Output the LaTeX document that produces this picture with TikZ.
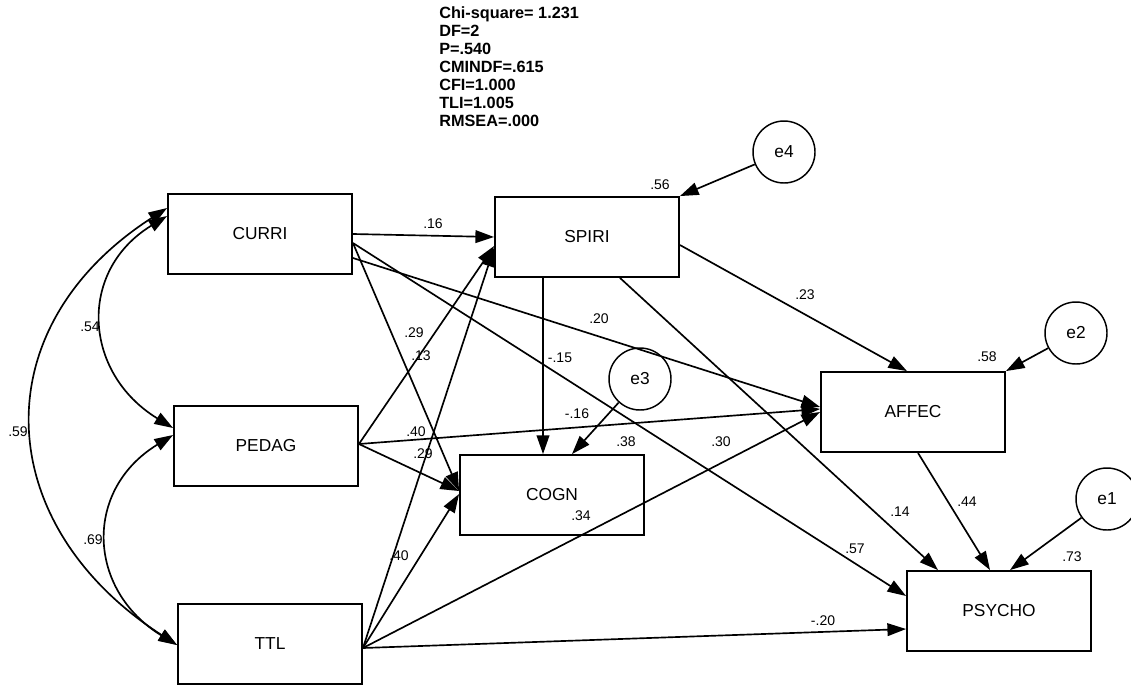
\documentclass[tikz,border=0pt]{standalone}
\usepackage{fontspec}
\setmainfont{Liberation Sans}
\usetikzlibrary{arrows.meta,calc}
\tikzset{
  >={Triangle[length=14pt,width=9.5pt]},
  var/.style={draw,line width=1.4pt,minimum width=138pt,minimum height=60pt,
    inner sep=0pt,font=\fontsize{13}{15}\selectfont},
  err/.style={circle,draw,line width=1.1pt,minimum size=46.5pt,inner sep=0pt,
    font=\fontsize{13}{15}\selectfont},
  effect/.style={->,line width=1.25pt},
  cov/.style={<->,line width=1.25pt},
  coef/.style={font=\fontsize{10.5}{12}\selectfont,inner sep=0pt},
  stats/.style={align=left,inner sep=0pt,font=\bfseries\fontsize{12.2}{13.6}\selectfont},
}
\begin{document}
\begin{tikzpicture}[x=0.75pt,y=-0.75pt]
  \useasboundingbox (0,0) rectangle (1131,686);
  \node[stats,anchor=north west] (fit) at (439,6) {Chi-square= 1.231\\DF=2\\P=.540\\CMINDF=.615\\CFI=1.000\\TLI=1.005\\RMSEA=.000};
  % observed variables
  \node[var] (curri) at (260,234) {CURRI};
  \node[var] (pedag) at (266,446) {PEDAG};
  \node[var] (ttl) at (270,644) {TTL};
  \node[var] (spiri) at (587,237) {SPIRI};
  \node[var] (cogn) at (552,495) {COGN};
  \node[var] (affec) at (913,412) {AFFEC};
  \node[var] (psycho) at (999,611) {PSYCHO};
  % residuals
  \node[err] (e4) at (784,152) {e4};
  \node[err] (e3) at (640,379) {e3};
  \node[err] (e2) at (1076,333) {e2};
  \node[err] (e1) at (1107,499) {e1};
  % paths
  \draw[effect] (curri.east) -- (spiri.west);
  \draw[effect] ($(curri.east)+(0,9)$) -- ($(cogn.west)+(0,-4)$);
  \draw[effect] ($(curri.east)+(0,9)$) -- ($(psycho.west)+(0,-15)$);
  \draw[effect] ($(curri.east)+(0,24)$) -- ($(affec.west)+(0,-5)$);
  \draw[effect] ($(pedag.east)+(0,-2)$) -- ($(spiri.west)+(0,9)$);
  \draw[effect] ($(pedag.east)+(0,-2)$) -- ($(cogn.west)+(0,-4)$);
  \draw[effect] ($(pedag.east)+(0,-2)$) -- ($(affec.west)+(0,-3)$);
  \draw[effect] ($(ttl.east)+(0,4)$) -- ($(spiri.west)+(0,11)$);
  \draw[effect] ($(ttl.east)+(0,4)$) -- ($(cogn.west)+(0,-1)$);
  \draw[effect] ($(ttl.east)+(0,4)$) -- (affec.west);
  \draw[effect] ($(ttl.east)+(0,4)$) -- ($(psycho.west)+(0,18)$);
  \draw[effect] ($(spiri.south)+(-44,0)$) -- ($(cogn.north)+(-9,0)$);
  \draw[effect] ($(spiri.east)+(0,8)$) -- ($(affec.north)+(-6,0)$);
  \draw[effect] ($(spiri.south)+(33,0)$) -- ($(psycho.north)+(-61,0)$);
  \draw[effect] ($(affec.south)+(5,0)$) -- ($(psycho.north)+(-9,0)$);
  \draw[effect] (e1) -- ($(psycho.north)+(11,0)$);
  \draw[effect] (e2) -- (affec.north east);
  \draw[effect] (e3) -- ($(cogn.north)+(20,0)$);
  \draw[effect] (e4) -- (spiri.north east);
  % covariances
  \draw[cov] ($(curri.west)+(0,-26)$) .. controls +(-186,120) and +(-186,-120) .. ($(ttl.west)+(0,1)$);
  \draw[cov] ($(curri.west)+(0,-18)$) .. controls +(-90,55) and +(-90,-55) .. ($(pedag.west)+(0,-18)$);
  \draw[cov] ($(pedag.west)+(0,-11)$) .. controls +(-90,55) and +(-90,-55) .. ($(ttl.west)+(0,1)$);
  % estimates
  \foreach \x/\y/\t [count=\i] in {433/224/.16, 414/333/.29, 421/356/.13, 599/319/.20,
      560/358/-.15, 805/295/.23, 987/357/.58, 660/185/.56, 416/432/.40, 423/454/.29,
      577/414/-.16, 626/442/.38, 721/442/.30, 581/516/.34, 399/556/.40, 900/512/.14,
      967/502/.44, 855/549/.57, 1072/557/.73, 823/621/-.20, 90/327/.54, 93/540/.69, 18/432/.59}
    \node[coef] (w\i) at (\x,\y) {\t};
\end{tikzpicture}
\end{document}
